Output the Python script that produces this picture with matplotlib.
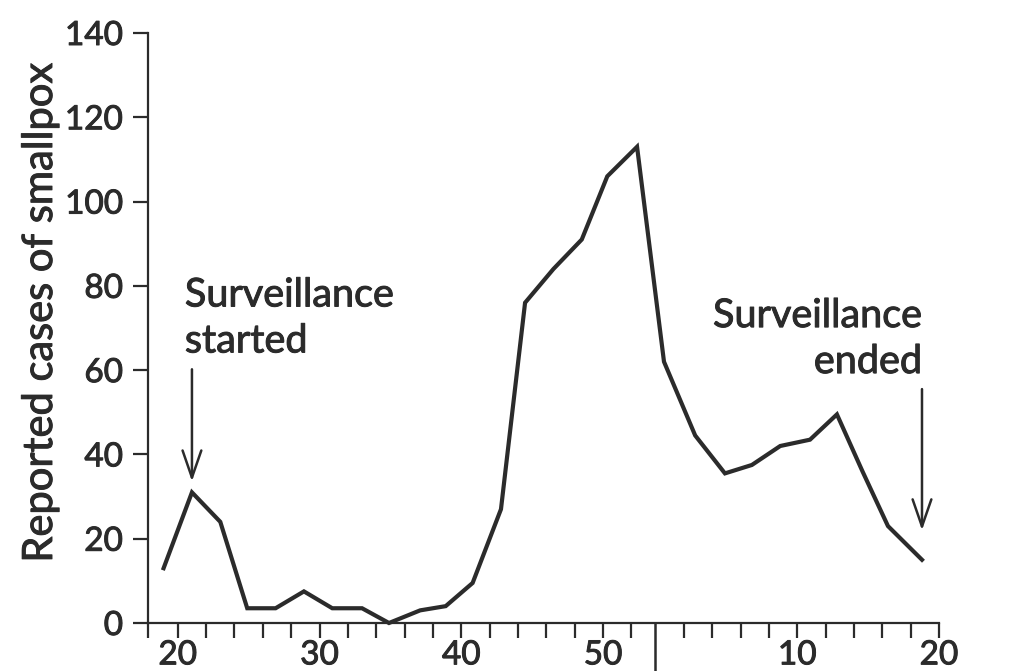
import matplotlib
matplotlib.use("Agg")
import matplotlib.pyplot as plt
import matplotlib.patheffects as pe
import numpy as np

plt.rcParams['font.family'] = ['Lato', 'DejaVu Sans']

# ---- data (positions, in weeks) ----
year1_weeks = [19, 21, 23, 24.9, 26.9, 28.9, 30.9, 33, 34.9, 37.1, 38.9, 40.8, 42.8,
               44.5, 46.5, 48.5, 50.3, 52.4]
year1_cases = [13, 31, 24, 3.5, 3.5, 7.5, 3.5, 3.5, 0, 3, 4, 9.5, 27, 76, 84, 91, 106, 113]
year2_weeks = [0.6, 2.8, 4.9, 6.8, 8.8, 10.9, 12.8, 14.6, 16.4, 18.8]
year2_cases = [62, 44.5, 35.5, 37.5, 42, 43.5, 49.5, 36, 23, 15]

year1_tick_weeks = list(range(20, 53, 2))
year2_tick_weeks = list(range(2, 21, 2))
year1_labels = {20: "20", 30: "30", 40: "40", 50: "50"}
year2_labels = {10: "10", 20: "20"}
y_ticks = [0, 20, 40, 60, 80, 100, 120, 140]

YEAR_OFFSET = 53.7   # position of the year boundary on the continuous axis
X_START = 17.9

ink = "#2b2b2b"
bold_fx = [pe.withStroke(linewidth=0.7, foreground=ink)]

# ---- figure ----
fig = plt.figure(figsize=(10.24, 6.71), dpi=100)
ax = fig.add_axes([148/1024, 1-623/671, (939-148)/1024, (623-33)/671])

xs = np.array(year1_weeks + [YEAR_OFFSET + w for w in year2_weeks], dtype=float)
ys = np.array(year1_cases + year2_cases, dtype=float)
ax.plot(xs, ys, color=ink, lw=3.0, solid_joinstyle='miter', clip_on=False)

ax.set_xlim(X_START, YEAR_OFFSET + 20)
ax.set_ylim(0, 140)

for s in ['top', 'right']:
    ax.spines[s].set_visible(False)
for s in ['left', 'bottom']:
    ax.spines[s].set_linewidth(1.6)
    ax.spines[s].set_color(ink)

# x ticks
tick_pos = [X_START] + year1_tick_weeks + [YEAR_OFFSET + w for w in year2_tick_weeks]
tick_lab = [""] + [year1_labels.get(w, "") for w in year1_tick_weeks] + \
           [year2_labels.get(w, "") for w in year2_tick_weeks]
ax.set_xticks(tick_pos)
ax.set_xticklabels(tick_lab)
ax.tick_params(axis='x', direction='out', length=11, width=1.6, color=ink,
               labelsize=24, labelcolor=ink, pad=1.5)

# y ticks
ax.set_yticks(y_ticks)
ax.set_yticklabels([str(v) for v in y_ticks])
ax.tick_params(axis='y', direction='out', length=11, width=1.6, color=ink,
               labelsize=24, labelcolor=ink, pad=7)

for lab in ax.get_xticklabels() + ax.get_yticklabels():
    lab.set_path_effects(bold_fx)

# long year-boundary tick
ax.plot([YEAR_OFFSET, YEAR_OFFSET], [0, -48/590], transform=ax.get_xaxis_transform(),
        color=ink, lw=1.8, clip_on=False)

# y label
fig.text(40/1024, 1-313/671, "Reported cases of smallpox", rotation=90,
         ha='center', va='center', fontsize=30, color=ink, path_effects=bold_fx)

# annotations
ax.text(20.5, 64.2, "Surveillance\nstarted", ha='left', va='baseline',
        fontsize=28.5, color=ink, linespacing=1.3, path_effects=bold_fx)
ax.annotate("", xy=(year1_weeks[1], 33.6), xytext=(year1_weeks[1], 60.2),
            arrowprops=dict(arrowstyle='->,head_length=1.3,head_width=0.45',
                            lw=1.8, color=ink, mutation_scale=15,
                            shrinkA=0, shrinkB=0))

ax.text(YEAR_OFFSET + 18.8, 59.3, "Surveillance\nended", ha='right',
        va='baseline', fontsize=28.5, color=ink, linespacing=1.3, multialignment='right',
        path_effects=bold_fx)
ax.annotate("", xy=(YEAR_OFFSET + year2_weeks[-1], 22), xytext=(YEAR_OFFSET + year2_weeks[-1], 55.5),
            arrowprops=dict(arrowstyle='->,head_length=1.3,head_width=0.45',
                            lw=1.8, color=ink, mutation_scale=15,
                            shrinkA=0, shrinkB=0))

fig.savefig("out.png", dpi=100, facecolor='white')
